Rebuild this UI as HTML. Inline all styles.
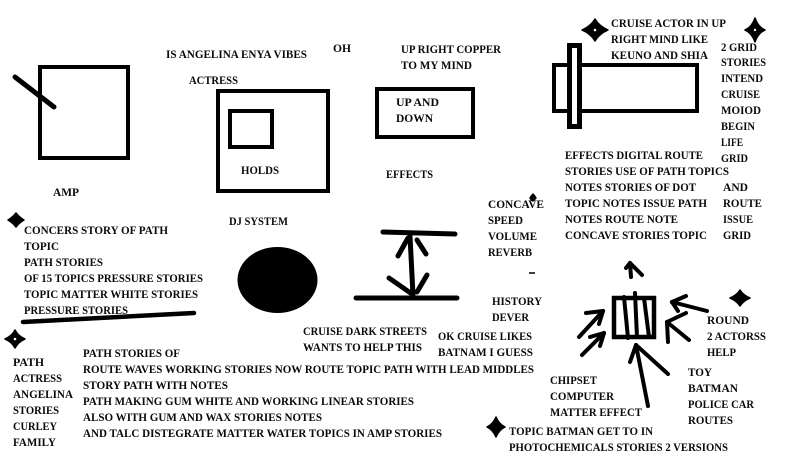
<!DOCTYPE html>
<html>
<head>
<meta charset="utf-8">
<style>
html,body{margin:0;padding:0;background:#fff;}
svg{display:block;}
text{font-family:"Liberation Serif",serif;font-weight:bold;font-size:12px;fill:#0a0a0a;}
</style>
</head>
<body>
<svg width="798" height="460" viewBox="0 0 798 460" xmlns="http://www.w3.org/2000/svg">
<rect width="798" height="460" fill="#fff"/>

<!-- AMP square + slash -->
<rect x="40" y="67" width="88" height="91" fill="none" stroke="#000" stroke-width="4"/>
<line x1="15" y1="77" x2="54" y2="107" stroke="#000" stroke-width="5" stroke-linecap="round"/>

<!-- big box with inner box -->
<rect x="218" y="91" width="110" height="100" fill="none" stroke="#000" stroke-width="4"/>
<rect x="230" y="111" width="42" height="36" fill="none" stroke="#000" stroke-width="4"/>

<!-- up and down box -->
<rect x="377" y="89" width="96" height="48" fill="none" stroke="#000" stroke-width="4"/>

<!-- pipe shape -->
<rect x="554" y="65" width="143" height="46" fill="none" stroke="#000" stroke-width="4"/>
<rect x="569.5" y="45.5" width="10" height="81" fill="#fff" stroke="#000" stroke-width="5"/>

<!-- ellipse -->
<ellipse cx="277.5" cy="280" rx="40" ry="33" fill="#000"/>

<!-- arrow between lines -->
<g stroke="#000" stroke-width="5" stroke-linecap="round" fill="none">
<line x1="383" y1="232" x2="455" y2="234"/>
<line x1="356" y1="298" x2="457" y2="298"/>
<line x1="410" y1="236" x2="413" y2="295"/>
<line x1="398" y1="256" x2="408" y2="238"/>
<line x1="417" y1="240" x2="426" y2="254"/>
<line x1="389" y1="278" x2="412" y2="294"/>
<line x1="427" y1="275" x2="417" y2="292"/>
</g>

<!-- underline -->
<line x1="23" y1="322" x2="194" y2="313" stroke="#000" stroke-width="4.5" stroke-linecap="round"/>

<!-- central figure -->
<rect x="614" y="298" width="40" height="39" fill="none" stroke="#000" stroke-width="4.5"/>
<g stroke="#000" stroke-width="4" stroke-linecap="round" fill="none">
<line x1="624" y1="297" x2="628" y2="338"/>
<line x1="635" y1="293" x2="637" y2="337"/>
<line x1="644" y1="298" x2="649" y2="337"/>
<!-- top arrow -->
<line x1="631" y1="277" x2="630" y2="263"/>
<line x1="630" y1="263" x2="642" y2="275"/>
<line x1="630" y1="263" x2="626" y2="268"/>
<!-- upper-left arrow -->
<line x1="579" y1="337" x2="603" y2="311"/>
<line x1="603" y1="311" x2="586" y2="313"/>
<line x1="603" y1="311" x2="599" y2="324"/>
<!-- lower-left arrow -->
<line x1="582" y1="355" x2="604" y2="333"/>
<line x1="604" y1="333" x2="590" y2="337"/>
<line x1="604" y1="333" x2="600" y2="346"/>
<!-- upper-right arrow -->
<line x1="707" y1="311" x2="672" y2="302"/>
<line x1="672" y1="302" x2="686" y2="296"/>
<line x1="672" y1="302" x2="678" y2="311"/>
<!-- lower-right arrow -->
<line x1="689" y1="340" x2="667" y2="322"/>
<line x1="667" y1="322" x2="686" y2="313"/>
<line x1="667" y1="322" x2="668" y2="342"/>
<!-- bottom arrow -->
<line x1="636" y1="345" x2="648" y2="406"/>
<line x1="636" y1="345" x2="668" y2="374"/>
<line x1="636" y1="345" x2="630" y2="362"/>
</g>

<!-- stars: concave four-point + fat center -->
<g fill="#000" stroke="#000" stroke-width="1.5" stroke-linejoin="round">
<path d="M595,19 Q599,26 608,30 Q599,34 595,41 Q591,34 582,30 Q591,26 595,19 Z"/>
<circle cx="595" cy="30" r="6"/>
<path d="M755,18 Q758,27 765,30 Q758,33 755,42 Q752,33 745,30 Q752,27 755,18 Z"/>
<circle cx="755" cy="30" r="5"/>
<path d="M16,213 Q19,217 24,220 Q19,223 16,227 Q13,223 8,220 Q13,217 16,213 Z"/>
<circle cx="16" cy="220" r="3.8"/>
<path d="M15,330 Q18,336 25,339 Q18,342 15,348 Q12,342 5,339 Q12,336 15,330 Z"/>
<circle cx="15" cy="339" r="5"/>
<path d="M740,290 Q743,295 750,298 Q743,301 740,306 Q737,301 730,298 Q737,295 740,290 Z"/>
<circle cx="740" cy="298" r="4.5"/>
<path d="M496,417 Q499,424 505,427 Q499,430 496,437 Q493,430 487,427 Q493,424 496,417 Z"/>
<circle cx="496" cy="427" r="4.5"/>
<path d="M533,194 Q535,196 536,198 Q534,200 533,201 Q531,200 530,198 Q531,196 533,194 Z"/>
</g>
<circle cx="595" cy="30" r="1.3" fill="#fff"/>
<circle cx="755" cy="30" r="1.2" fill="#fff"/>
<circle cx="15" cy="339" r="1.3" fill="#fff"/>

<!-- dash -->
<line x1="529" y1="273" x2="535" y2="273" stroke="#000" stroke-width="1.5"/>

<!-- texts -->
<g>
<text x="166" y="58" textLength="141" lengthAdjust="spacingAndGlyphs">IS ANGELINA  ENYA VIBES</text>
<text x="333" y="52" textLength="18" lengthAdjust="spacingAndGlyphs">OH</text>
<text x="189" y="84" textLength="49" lengthAdjust="spacingAndGlyphs">ACTRESS</text>
<text x="241" y="174" textLength="38" lengthAdjust="spacingAndGlyphs">HOLDS</text>
<text x="53" y="196" textLength="26" lengthAdjust="spacingAndGlyphs">AMP</text>
<text x="229" y="225" textLength="59" lengthAdjust="spacingAndGlyphs">DJ SYSTEM</text>

<text x="401" y="53" textLength="100" lengthAdjust="spacingAndGlyphs">UP RIGHT COPPER</text>
<text x="401" y="69" textLength="71" lengthAdjust="spacingAndGlyphs">TO MY MIND</text>
<text x="396" y="106" textLength="43" lengthAdjust="spacingAndGlyphs">UP AND</text>
<text x="396" y="122" textLength="37" lengthAdjust="spacingAndGlyphs">DOWN</text>
<text x="386" y="178" textLength="47" lengthAdjust="spacingAndGlyphs">EFFECTS</text>

<text x="611" y="27" textLength="115" lengthAdjust="spacingAndGlyphs">CRUISE ACTOR IN UP</text>
<text x="611" y="43" textLength="97" lengthAdjust="spacingAndGlyphs">RIGHT MIND LIKE</text>
<text x="611" y="59" textLength="97" lengthAdjust="spacingAndGlyphs">KEUNO AND SHIA</text>

<text x="721" y="51" textLength="36" lengthAdjust="spacingAndGlyphs">2 GRID</text>
<text x="721" y="66" textLength="45" lengthAdjust="spacingAndGlyphs">STORIES</text>
<text x="721" y="82" textLength="42" lengthAdjust="spacingAndGlyphs">INTEND</text>
<text x="721" y="98" textLength="39" lengthAdjust="spacingAndGlyphs">CRUISE</text>
<text x="721" y="114" textLength="40" lengthAdjust="spacingAndGlyphs">MOIOD</text>
<text x="721" y="130" textLength="34" lengthAdjust="spacingAndGlyphs">BEGIN</text>
<text x="721" y="146" textLength="22" lengthAdjust="spacingAndGlyphs">LIFE</text>
<text x="721" y="162" textLength="27" lengthAdjust="spacingAndGlyphs">GRID</text>

<text x="565" y="159" textLength="138" lengthAdjust="spacingAndGlyphs">EFFECTS DIGITAL ROUTE</text>
<text x="565" y="175" textLength="164" lengthAdjust="spacingAndGlyphs">STORIES USE OF PATH TOPICS</text>
<text x="565" y="191" textLength="131" lengthAdjust="spacingAndGlyphs">NOTES STORIES OF DOT</text>
<text x="565" y="207" textLength="142" lengthAdjust="spacingAndGlyphs">TOPIC NOTES ISSUE PATH</text>
<text x="565" y="223" textLength="113" lengthAdjust="spacingAndGlyphs">NOTES ROUTE NOTE</text>
<text x="565" y="239" textLength="142" lengthAdjust="spacingAndGlyphs">CONCAVE STORIES TOPIC</text>

<text x="723" y="191" textLength="25" lengthAdjust="spacingAndGlyphs">AND</text>
<text x="723" y="207" textLength="39" lengthAdjust="spacingAndGlyphs">ROUTE</text>
<text x="723" y="223" textLength="30" lengthAdjust="spacingAndGlyphs">ISSUE</text>
<text x="723" y="239" textLength="28" lengthAdjust="spacingAndGlyphs">GRID</text>

<text x="488" y="208" textLength="56" lengthAdjust="spacingAndGlyphs">CONCAVE</text>
<text x="488" y="224" textLength="35" lengthAdjust="spacingAndGlyphs">SPEED</text>
<text x="488" y="240" textLength="49" lengthAdjust="spacingAndGlyphs">VOLUME</text>
<text x="488" y="256" textLength="44" lengthAdjust="spacingAndGlyphs">REVERB</text>

<text x="492" y="305" textLength="50" lengthAdjust="spacingAndGlyphs">HISTORY</text>
<text x="492" y="321" textLength="37" lengthAdjust="spacingAndGlyphs">DEVER</text>

<text x="438" y="340" textLength="94" lengthAdjust="spacingAndGlyphs">OK CRUISE LIKES</text>
<text x="438" y="356" textLength="95" lengthAdjust="spacingAndGlyphs">BATNAM I GUESS</text>

<text x="303" y="335" textLength="124" lengthAdjust="spacingAndGlyphs">CRUISE DARK STREETS</text>
<text x="303" y="351" textLength="119" lengthAdjust="spacingAndGlyphs">WANTS TO HELP THIS</text>

<text x="24" y="234" textLength="144" lengthAdjust="spacingAndGlyphs">CONCERS STORY OF PATH</text>
<text x="24" y="250" textLength="35" lengthAdjust="spacingAndGlyphs">TOPIC</text>
<text x="24" y="266" textLength="79" lengthAdjust="spacingAndGlyphs">PATH STORIES</text>
<text x="24" y="282" textLength="179" lengthAdjust="spacingAndGlyphs">OF 15 TOPICS PRESSURE STORIES</text>
<text x="24" y="298" textLength="174" lengthAdjust="spacingAndGlyphs">TOPIC MATTER WHITE STORIES</text>
<text x="24" y="314" textLength="104" lengthAdjust="spacingAndGlyphs">PRESSURE STORIES</text>

<text x="13" y="366" textLength="31" lengthAdjust="spacingAndGlyphs">PATH</text>
<text x="13" y="382" textLength="49" lengthAdjust="spacingAndGlyphs">ACTRESS</text>
<text x="13" y="398" textLength="60" lengthAdjust="spacingAndGlyphs">ANGELINA</text>
<text x="13" y="414" textLength="46" lengthAdjust="spacingAndGlyphs">STORIES</text>
<text x="13" y="430" textLength="44" lengthAdjust="spacingAndGlyphs">CURLEY</text>
<text x="13" y="446" textLength="43" lengthAdjust="spacingAndGlyphs">FAMILY</text>

<text x="83" y="357" textLength="97" lengthAdjust="spacingAndGlyphs">PATH STORIES OF</text>
<text x="83" y="373" textLength="451" lengthAdjust="spacingAndGlyphs">ROUTE WAVES WORKING STORIES NOW ROUTE TOPIC PATH WITH LEAD MIDDLES</text>
<text x="83" y="389" textLength="145" lengthAdjust="spacingAndGlyphs">STORY PATH WITH NOTES</text>
<text x="83" y="405" textLength="331" lengthAdjust="spacingAndGlyphs">PATH MAKING GUM WHITE AND WORKING LINEAR STORIES</text>
<text x="83" y="421" textLength="239" lengthAdjust="spacingAndGlyphs">ALSO WITH GUM AND WAX STORIES NOTES</text>
<text x="83" y="437" textLength="359" lengthAdjust="spacingAndGlyphs">AND TALC DISTEGRATE MATTER WATER TOPICS IN AMP STORIES</text>

<text x="550" y="384" textLength="47" lengthAdjust="spacingAndGlyphs">CHIPSET</text>
<text x="550" y="400" textLength="64" lengthAdjust="spacingAndGlyphs">COMPUTER</text>
<text x="550" y="416" textLength="92" lengthAdjust="spacingAndGlyphs">MATTER EFFECT</text>

<text x="707" y="324" textLength="42" lengthAdjust="spacingAndGlyphs">ROUND</text>
<text x="707" y="340" textLength="59" lengthAdjust="spacingAndGlyphs">2 ACTORSS</text>
<text x="707" y="356" textLength="29" lengthAdjust="spacingAndGlyphs">HELP</text>

<text x="688" y="376" textLength="24" lengthAdjust="spacingAndGlyphs">TOY</text>
<text x="688" y="392" textLength="50" lengthAdjust="spacingAndGlyphs">BATMAN</text>
<text x="688" y="408" textLength="66" lengthAdjust="spacingAndGlyphs">POLICE CAR</text>
<text x="688" y="424" textLength="45" lengthAdjust="spacingAndGlyphs">ROUTES</text>

<text x="509" y="435" textLength="144" lengthAdjust="spacingAndGlyphs">TOPIC BATMAN GET TO IN</text>
<text x="509" y="451" textLength="219" lengthAdjust="spacingAndGlyphs">PHOTOCHEMICALS STORIES 2 VERSIONS</text>
</g>
</svg>
</body>
</html>
